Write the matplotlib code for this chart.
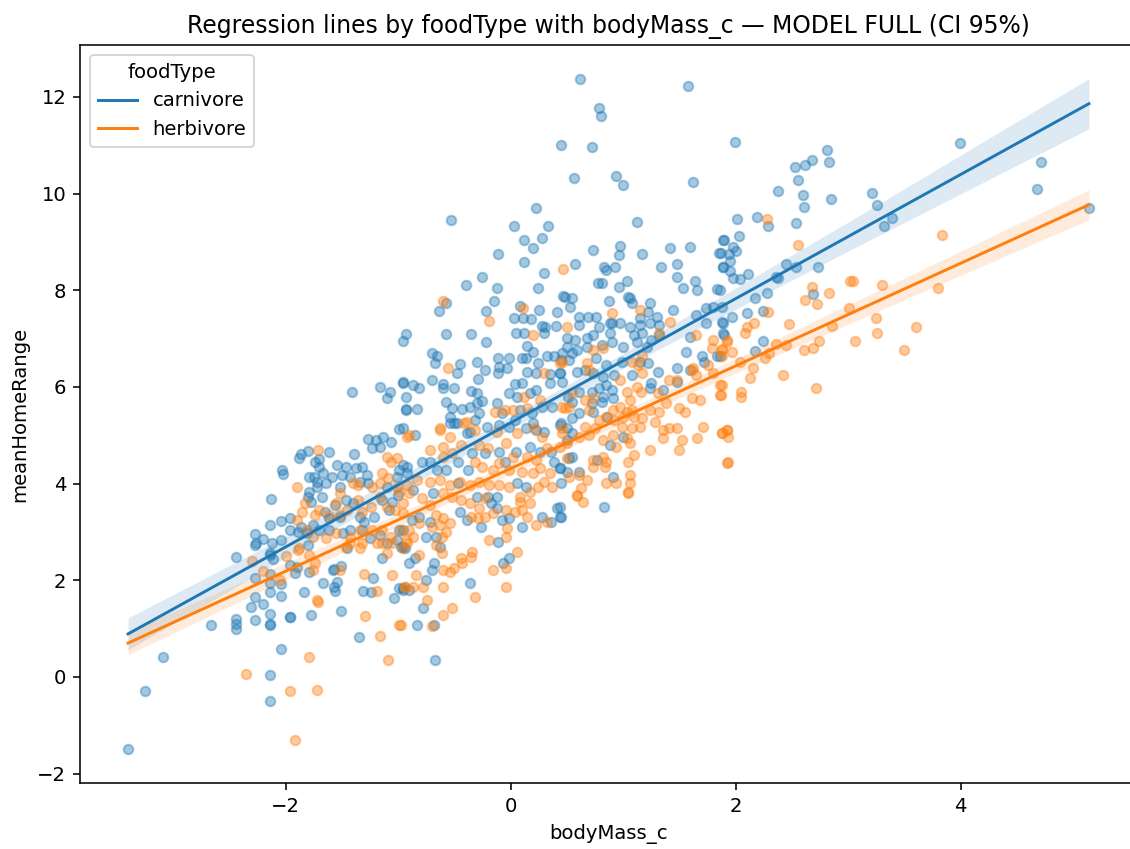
import numpy as np
import matplotlib
matplotlib.use("Agg")
import matplotlib.pyplot as plt

# ---------------- data ----------------
groups = ["carnivore", "herbivore"]
colors = ["#1f77b4", "#ff7f0e"]

carn_pts = [
    (-3.4, -1.5), (-3.25, -0.29), (-3.09, 0.41), (-2.66, 1.08), (-2.44, 2.48), (-2.44, 1.2), (-2.44, 1.1), (-2.44, 1.0),
    (-2.27, 2.96), (-2.27, 2.73), (-2.2, 2.86), (-2.13, 3.69), (-2.14, 3.15), (-2.04, 3.23), (-1.96, 3.29), (-2.03, 4.29),
    (-2.02, 4.2), (-1.88, 4.53), (-2.04, 2.84), (-2.14, 2.53), (-2.11, 2.44), (-2.27, 2.05), (-2.14, 2.13), (-2.14, 1.95),
    (-2.04, 1.93), (-2.14, 1.76), (-2.27, 1.66), (-2.2, 1.51), (-2.31, 1.45), (-2.27, 1.18), (-2.14, 1.3), (-2.14, 1.08),
    (-2.04, 1.68), (-1.96, 1.24), (-2.04, 0.58), (-2.14, 0.04), (-2.14, -0.5), (-1.9, 2.28),
    (-0.96, 6.96), (-0.93, 7.1), (-1.41, 5.9), (-1.16, 6.0), (-1.07, 5.9), (-1.1, 5.78), (-0.96, 6.1), (-0.93, 5.8),
    (-0.93, 5.53), (-0.99, 5.13), (-1.27, 4.93), (-1.2, 4.9), (-1.13, 4.97), (-1.23, 4.74), (-1.16, 4.76), (-1.06, 4.87),
    (-1.86, 4.62), (-1.8, 4.68), (-1.7, 4.51), (-1.61, 4.66), (-1.39, 4.62), (-2.26, 2.77), (-2.12, 2.77), (-1.96, 3.04),
    (-1.74, 4.45), (-1.70, 4.35), (-1.75, 4.14), (-1.72, 4.04), (-1.79, 4.14), (-1.67, 4.22), (-1.64, 4.02), (-1.72, 3.93),
    (-1.79, 3.83), (-1.80, 3.73), (-1.77, 3.62), (-1.68, 3.73), (-1.59, 4.14), (-1.54, 4.39), (-1.50, 4.18), (-1.46, 4.35),
    (-1.43, 4.14), (-1.37, 4.33), (-1.32, 4.35), (-1.28, 4.18), (-1.34, 4.04), (-1.27, 4.02), (-1.52, 3.93), (-1.46, 3.66),
    (-1.56, 3.56), (-1.65, 3.42), (-1.61, 3.29), (-1.52, 3.31), (-1.40, 3.60), (-1.34, 3.31), (-1.30, 3.21), (-1.21, 3.31),
    (-1.14, 3.66), (-1.08, 3.46), (-1.05, 3.62), (-1.00, 3.77), (-1.10, 3.93), (-1.01, 4.14), (-0.96, 4.39), (-0.92, 4.22),
    (-1.86, 3.11), (-1.81, 2.98), (-1.89, 3.00), (-1.76, 3.15), (-1.70, 3.04), (-1.61, 3.04), (-1.49, 2.98), (-1.43, 3.04),
    (-1.32, 3.04), (-1.25, 2.88), (-1.16, 2.94), (-1.10, 2.77), (-1.01, 2.84), (-0.99, 3.04),
    (0.23, 9.71), (-0.53, 9.46), (0.03, 9.32), (0.33, 9.32), (0.12, 9.05), (0.28, 9.09), (0.2, 8.88), (-0.11, 8.76),
    (0.12, 8.59), (0.3, 8.36), (-0.25, 8.28), (-0.4, 8.1), (-0.12, 8.05), (0.24, 8.05), (0.47, 7.89), (-0.15, 7.78),
    (-0.57, 7.74), (-0.64, 7.58), (-0.22, 7.58), (0.08, 7.68), (0.25, 7.6), (0.41, 7.56), (0.03, 7.43), (0.11, 7.43),
    (0.18, 7.41), (0.28, 7.27), (0.31, 7.25), (0.4, 7.27), (0.05, 7.12), (0.12, 7.12), (0.3, 7.12), (-0.57, 7.1),
    (-0.35, 7.1), (-0.22, 6.92), (0.15, 6.85), (0.2, 6.73), (-0.7, 6.71), (-0.65, 6.65), (-0.67, 6.5), (-0.45, 6.48),
    (-0.3, 6.52), (-0.11, 6.6), (-0.01, 6.6), (-0.1, 6.42), (-0.03, 6.4), (0.1, 6.6), (0.14, 6.6), (0.24, 6.5),
    (0.32, 6.63), (0.39, 6.63), (0.46, 6.71), (-0.48, 6.29), (-0.23, 6.36), (-0.11, 6.29), (0.15, 6.31), (0.23, 6.29),
    (0.35, 6.27), (0.44, 6.29), (-0.29, 6.17), (-0.96, 6.09), (-0.87, 6.05), (-0.81, 5.98), (-0.7, 6.15), (-0.6, 6.07),
    (-0.6, 5.98), (-0.5, 5.98), (-0.35, 5.92), (-0.3, 5.88), (-0.25, 5.71), (-0.01, 5.88), (0.04, 6.07),
    (0.1, 6.09), (0.06, 5.8), (0.17, 5.88), (0.23, 5.94), (0.35, 6.09), (0.46, 6.11), (-0.57, 5.69), (-0.43, 5.55),
    (-0.36, 5.59), (-0.3, 5.67), (-0.28, 5.47), (-0.93, 5.55), (-0.83, 5.55), (-0.52, 5.57), (-0.12, 5.67), (-0.08, 5.47),
    (0.08, 5.53), (0.19, 5.47), (0.28, 5.59), (0.37, 5.59), (-0.54, 5.38), (-0.5, 5.26), (-0.32, 5.32), (0.04, 5.32),
    (0.2, 5.26),
    (0.62, 12.38), (1.58, 12.22), (0.79, 11.78), (0.8, 11.61), (0.45, 11.01), (0.72, 10.97), (1.99, 11.06), (0.56, 10.33),
    (0.94, 10.37), (1.0, 10.17), (1.62, 10.25), (1.12, 9.42), (0.73, 8.84), (0.97, 8.92), (0.96, 8.72), (1.17, 8.74),
    (1.42, 8.88), (1.59, 8.9), (1.89, 9.03), (1.85, 8.78), (0.57, 8.55), (0.83, 8.49), (0.85, 8.41), (0.93, 8.49),
    (1.34, 8.49), (1.48, 8.55), (1.89, 8.49), (1.48, 8.28), (0.78, 8.16), (0.81, 8.14), (0.96, 8.07), (1.03, 8.2),
    (1.64, 8.2), (1.53, 8.05), (1.66, 8.01), (1.83, 8.03), (0.48, 7.87), (0.55, 7.85), (1.04, 7.87), (1.06, 7.83),
    (0.87, 7.78), (1.08, 7.74), (0.53, 7.66), (1.24, 7.74), (0.61, 7.45), (0.69, 7.45), (0.76, 7.45), (0.9, 7.33),
    (0.97, 7.33), (1.15, 7.43), (1.22, 7.56), (1.3, 7.45), (1.44, 7.6), (1.65, 7.49), (1.74, 7.64), (1.8, 7.66),
    (1.88, 7.66), (1.89, 7.33), (0.79, 7.25), (1.32, 7.29), (1.74, 7.33),
    (2.81, 10.91), (2.83, 10.66), (2.68, 10.7), (2.62, 10.6), (2.53, 10.54), (2.55, 10.29), (2.38, 10.06), (2.6, 9.98),
    (2.61, 9.73), (2.85, 9.88), (3.21, 10.02), (3.26, 9.77), (3.32, 9.32), (2.01, 9.48), (2.19, 9.52), (2.29, 9.32),
    (2.54, 9.4), (2.03, 9.13), (1.9, 9.05), (1.98, 8.9), (2.0, 8.82), (1.94, 8.74), (1.87, 8.78), (1.95, 8.61),
    (1.89, 8.49), (1.95, 8.39), (1.98, 8.26), (2.11, 8.34), (2.04, 8.24), (2.45, 8.55), (2.54, 8.49), (2.73, 8.49),
    (2.36, 8.28), (2.38, 8.26), (2.69, 7.93), (2.28, 7.95), (2.17, 7.85), (1.86, 8.01), (2.24, 7.58), (2.1, 7.52),
    (1.97, 7.45), (1.88, 7.35), (1.89, 7.12), (2.24, 6.96), (2.17, 6.75), (1.86, 6.63),
    (3.99, 11.04), (4.71, 10.66), (4.68, 10.1), (5.14, 9.71), (3.39, 9.5),
    (0.61, 7.29), (0.88, 7.33), (1.06, 7.25), (1.15, 7.29), (1.24, 7.33), (0.5, 7.02), (0.57, 6.98), (0.68, 7.02),
    (0.73, 7.08), (0.88, 7.12), (1.1, 7.08), (1.17, 7.12), (1.25, 6.98), (1.32, 7.08), (1.59, 7.04), (1.9, 7.08),
    (0.5, 6.83), (0.59, 6.77), (0.55, 6.71), (0.68, 6.83), (0.81, 6.87), (0.9, 6.92), (1.0, 6.83), (1.12, 6.92),
    (1.21, 6.83), (0.45, 6.56), (0.52, 6.56), (0.76, 6.6), (0.85, 6.46), (0.99, 6.52), (1.15, 6.52), (1.22, 6.5),
    (1.56, 6.73), (1.7, 6.63), (1.83, 6.63), (1.72, 6.52), (1.48, 6.4), (1.59, 6.36), (0.44, 6.29), (0.59, 6.31),
    (0.66, 6.36), (0.73, 6.29), (0.82, 6.21), (0.92, 6.25), (1.08, 6.25), (1.31, 6.31), (1.25, 6.09), (1.35, 5.94),
    (1.48, 6.11), (0.85, 6.05), (0.79, 5.98), (0.9, 5.94), (0.82, 5.8), (0.91, 5.78), (0.72, 5.9), (0.61, 5.9),
    (0.51, 5.8), (0.55, 5.69), (0.72, 5.67), (0.81, 5.69), (1.24, 5.98), (0.61, 5.47), (0.55, 5.36), (0.73, 5.49),
    (0.86, 5.38), (0.45, 5.26), (0.55, 5.05), (0.5, 4.91), (1.0, 4.97), (0.88, 4.8), (0.55, 4.55), (0.52, 4.53),
    (0.44, 4.33), (0.5, 4.24), (0.61, 4.24), (0.91, 4.14), (0.45, 4.02), (0.77, 4.49),
    (0.83, 3.52), (0.44, 3.52), (0.45, 3.31),
    (-0.96, 5.15), (-0.85, 5.01), (-0.54, 5.26), (-0.48, 5.26), (-0.39, 5.05), (-0.36, 5.07), (-0.21, 5.18), (-0.1, 5.22),
    (-0.01, 5.18), (0.14, 5.15), (0.23, 5.11), (0.3, 5.07), (0.44, 5.22), (0.5, 5.15), (-0.79, 4.45), (-0.72, 4.45),
    (-0.92, 4.35), (-0.99, 4.29), (-0.65, 4.29), (-0.57, 4.29), (-0.47, 4.45), (-0.38, 4.29), (-0.34, 4.64), (-0.23, 4.64),
    (-0.1, 4.66), (-0.05, 4.45), (0.05, 4.66), (0.17, 4.76), (0.26, 4.66), (0.36, 4.66), (0.39, 4.45), (0.44, 4.33),
    (0.06, 4.02), (0.14, 3.93), (-0.47, 4.02), (-0.69, 3.81), (-0.87, 3.87), (-0.3, 3.73), (-0.2, 3.73), (-0.12, 3.73),
    (-0.17, 3.6), (-0.12, 3.5), (0.41, 3.5), (0.44, 3.31), (0.36, 3.21), (0.28, 3.31), (-0.01, 3.29), (-0.08, 3.25),
    (0.1, 3.11), (-0.45, 3.42), (-0.39, 3.25), (-0.81, 3.31), (-0.72, 3.21), (-0.88, 3.25), (-0.96, 3.04), (-0.75, 2.9),
    (-0.97, 2.69), (-0.94, 2.67), (-0.63, 2.69), (-0.66, 2.9), (-0.26, 3.11), (-0.11, 2.8), (-0.85, 2.46), (-0.9, 2.36),
    (-0.68, 2.36), (-0.7, 2.22), (-0.07, 2.36), (-0.01, 2.46), (-0.75, 2.01), (-0.36, 1.95), (-0.96, 1.84), (-0.9, 1.8),
    (-0.78, 1.43), (-0.83, 1.08), (-0.68, 1.08), (-0.67, 0.35), (-1.35, 0.83),
    (-2.14, 2.57), (-1.8, 2.73), (-1.96, 2.32), (-1.92, 2.15), (-1.79, 2.17), (-1.58, 2.22), (-1.51, 1.37), (-1.77, 1.28),
    (-1.96, 1.24), (-2.14, 1.1), (-1.84, 1.76), (-1.67, 1.95), (-1.57, 1.86), (-1.54, 1.97), (-1.56, 1.78), (-1.57, 2.24),
    (-1.51, 2.3), (-1.22, 2.05), (-1.31, 1.78), (-1.24, 1.76), (-1.04, 1.64), (-0.96, 1.8), (-0.99, 1.84), (-0.96, 2.69),
    (-1.14, 2.46), (-1.45, 2.67),
]

herb_pts = [
    (-2.35, 0.06), (-1.96, -0.29), (-1.92, -1.3), (-1.72, -0.27), (-1.79, 0.41), (-1.09, 0.35), (-1.16, 0.85), (-1.29, 1.26),
    (-0.99, 1.08), (-1.71, 1.55), (-1.3, 2.13), (-1.05, 2.11), (-1.19, 1.78), (-1.9, 3.93),
    (-0.6, 7.78), (0.11, 7.64), (-0.19, 7.37), (0.47, 8.43), (0.2, 7.08), (0.5, 7.25), (-0.56, 6.4), (0.44, 6.5),
    (0.3, 6.29), (0.12, 5.8), (0.26, 5.73), (-0.05, 5.53), (0.02, 5.53), (-0.14, 5.49), (0.46, 5.59), (0.15, 5.57),
    (-0.39, 5.28), (-0.63, 5.15),
    (0.9, 7.52), (1.15, 7.6), (1.42, 7.35),
    (2.28, 9.48), (2.55, 8.94), (3.02, 8.2), (3.04, 8.2), (3.3, 8.1), (2.68, 8.07), (2.83, 7.95), (2.62, 7.8),
    (2.72, 7.72), (2.29, 7.56), (2.16, 7.33), (2.47, 7.31), (2.86, 7.27), (3.01, 7.64), (3.25, 7.43), (3.26, 7.12),
    (2.1, 7.25), (2.08, 7.12), (1.92, 6.98), (1.88, 6.79), (1.97, 6.73), (2.36, 6.89), (2.45, 6.87), (2.61, 6.77),
    (2.69, 6.81), (2.74, 6.94), (3.06, 6.94), (2.26, 6.6), (2.3, 6.71), (2.04, 6.52), (2.15, 6.4), (2.13, 6.19),
    (2.42, 6.25), (2.71, 5.98), (1.88, 6.05), (2.05, 5.9), (2.05, 5.8),
    (1.87, 5.84), (1.92, 5.11), (1.93, 4.97), (1.88, 5.05), (1.93, 4.45),
    (3.83, 9.15), (3.8, 8.05), (3.6, 7.23), (3.5, 6.77),
    (1.32, 7.12), (1.65, 7.08), (1.8, 6.98), (1.79, 6.81), (1.92, 6.92), (1.88, 6.77), (0.73, 6.77), (0.82, 6.81),
    (0.46, 6.52), (0.68, 6.5), (0.7, 6.36), (1.08, 6.52), (1.13, 6.46), (1.17, 6.63), (1.75, 6.46), (1.62, 6.4),
    (1.65, 6.25), (1.61, 6.36), (1.8, 6.29), (1.88, 6.63), (1.86, 6.05), (1.86, 5.84), (1.68, 5.73), (1.61, 5.78),
    (1.41, 6.15), (1.48, 6.15), (1.31, 5.88), (1.38, 5.67), (1.32, 5.49), (1.5, 5.57), (1.55, 5.49), (1.17, 6.29),
    (1.12, 6.0), (1.16, 5.9), (1.03, 5.9), (0.97, 6.15), (1.06, 5.73), (0.97, 5.59), (1.03, 5.49), (1.08, 5.53),
    (0.91, 5.53), (1.0, 5.38), (1.1, 5.38), (1.17, 5.36), (1.24, 5.53), (1.28, 5.28), (1.15, 5.18), (1.08, 5.15),
    (0.99, 5.18), (0.92, 5.32), (0.85, 5.38), (0.79, 5.32), (0.7, 5.53), (0.66, 5.73), (0.73, 5.78), (0.55, 5.88),
    (0.48, 5.57), (0.52, 5.59), (0.66, 5.18), (0.75, 5.15), (0.7, 5.01), (0.61, 4.97), (0.46, 5.05), (0.82, 4.91),
    (0.91, 5.01), (1.03, 4.95), (1.06, 4.84), (0.94, 4.76), (1.35, 5.11), (1.41, 5.15), (1.48, 5.15), (1.35, 4.95),
    (1.52, 4.91), (1.5, 4.7), (1.66, 4.95), (1.71, 5.18), (1.88, 5.05), (1.92, 5.11), (1.92, 4.43), (1.24, 4.7),
    (1.1, 4.6), (1.04, 4.45), (1.06, 4.18), (1.06, 4.02), (1.04, 3.83), (0.73, 4.49), (0.82, 4.55), (0.85, 4.45),
    (0.73, 4.35), (0.84, 4.35), (0.61, 4.18), (0.85, 4.02), (0.94, 4.02), (0.68, 4.08), (0.63, 3.91), (0.59, 3.77),
    (0.52, 4.14), (0.59, 3.75), (0.64, 3.62), (1.04, 3.81),
    (-0.63, 5.11), (-0.54, 4.97), (-0.41, 5.26), (-0.32, 5.11), (-0.12, 5.07), (0.06, 5.05), (0.21, 5.15), (0.28, 4.97),
    (0.46, 5.15), (-0.9, 5.01), (-0.72, 4.7), (-0.6, 4.76), (-0.52, 4.64), (-0.6, 4.55), (-0.44, 4.8), (-0.28, 4.8),
    (-0.2, 4.74), (-0.04, 4.84), (0.02, 4.55), (0.15, 4.55), (0.23, 4.49), (0.32, 4.74), (0.44, 4.76), (0.5, 4.84),
    (0.5, 4.53), (-0.32, 4.45), (-0.25, 4.35), (-0.16, 4.29), (-0.1, 4.43), (-0.01, 4.29), (0.1, 4.24), (0.2, 4.22),
    (0.26, 4.33), (0.35, 4.22), (0.3, 4.04), (0.37, 3.93), (0.24, 3.93), (0.17, 3.83), (0.08, 3.73), (-0.01, 3.93),
    (-0.1, 3.98), (-0.19, 3.98), (-0.28, 4.04), (-0.36, 3.98), (-0.45, 4.04), (-0.54, 3.98), (-0.63, 4.08), (-0.72, 4.04),
    (-0.83, 4.08), (-0.92, 3.98), (-0.99, 3.83), (-0.9, 3.81), (-0.79, 3.71), (-0.6, 3.81), (-0.52, 3.73), (-0.44, 3.66),
    (-0.36, 3.6), (-0.28, 3.5), (-0.23, 3.71), (-0.35, 3.31), (-0.29, 3.29), (-0.23, 3.31), (-0.16, 3.4), (-0.04, 3.46),
    (0.04, 3.42), (0.1, 3.46), (0.15, 3.31), (0.23, 3.15), (0.32, 3.21), (0.08, 3.62), (0.17, 3.6), (-0.72, 3.56),
    (-0.66, 3.35), (-0.6, 3.29), (-0.54, 3.19), (-0.63, 3.15), (-0.7, 3.11), (-0.81, 3.19), (-0.9, 3.04), (-0.87, 2.9),
    (-0.93, 2.84), (-0.57, 3.0), (-0.61, 2.9), (-0.66, 2.73), (-0.61, 2.57), (-0.81, 2.53), (-0.84, 2.11), (-0.78, 1.86),
    (-0.87, 1.86), (-0.94, 1.86), (-0.74, 1.59), (-0.6, 1.28), (-0.52, 1.43), (-0.7, 1.06), (-0.97, 1.08), (-0.6, 2.22),
    (-0.54, 2.17), (-0.5, 2.26), (-0.44, 2.46), (-0.43, 2.36), (-0.34, 2.59), (-0.35, 2.48), (-0.6, 1.86), (-0.32, 1.66),
    (-0.16, 2.22), (-0.04, 2.26), (-0.04, 1.86), (0.06, 2.59), (-0.19, 2.84), (-0.04, 2.9), (-0.03, 3.08),
    (-1.71, 4.7), (-1.1, 4.55), (-1.06, 4.45), (-1.01, 4.53), (-0.92, 4.97), (-1.14, 4.22), (-1.09, 4.12), (-1.4, 4.02),
    (-1.36, 3.98), (-1.52, 3.81), (-1.55, 3.6), (-1.83, 3.6), (-1.85, 3.42), (-1.74, 3.35), (-1.7, 3.46), (-1.61, 3.35),
    (-1.52, 3.35), (-1.45, 3.46), (-1.36, 3.66), (-1.32, 3.42), (-1.24, 3.52), (-1.16, 3.73), (-1.1, 3.52), (-1.03, 3.46),
    (-0.96, 3.4), (-0.96, 3.6), (-1.01, 3.93), (-1.23, 3.93), (-1.16, 4.02), (-1.81, 3.04), (-1.76, 2.9), (-1.64, 2.88),
    (-1.55, 2.98), (-1.43, 2.9), (-1.34, 3.04), (-1.23, 3.04), (-1.14, 3.04), (-1.06, 2.9), (-0.97, 3.04), (-0.92, 2.77),
    (-1.14, 2.77), (-1.32, 2.77), (-1.46, 2.69), (-1.88, 2.67), (-1.9, 3.25),
    (-1.89, 2.63), (-1.79, 2.53), (-1.74, 2.36), (-1.76, 2.22), (-1.52, 2.22), (-1.43, 2.77), (-1.34, 2.67), (-1.19, 2.77),
    (-1.1, 2.57), (-1.05, 2.77), (-0.96, 2.67), (-0.94, 1.86), (-1.72, 1.59),
    (-2.3, 2.4), (-2.2, 2.2), (-2.0, 2.5), (-2.05, 2.0),
]

# fitted model lines and 95% CI half-widths
line_x = [-3.4, 5.14]
carn_line = [0.89, 11.86]
herb_line = [0.70, 9.77]
band_x = [-3.4, -2, -1, 0, 1, 2, 3, 4, 5.14]
carn_half = [0.33, 0.22, 0.16, 0.13, 0.15, 0.22, 0.30, 0.40, 0.52]
herb_half = [0.24, 0.17, 0.13, 0.11, 0.12, 0.15, 0.20, 0.25, 0.31]

title = "Regression lines by foodType with bodyMass_c \u2014 MODEL FULL (CI 95%)"
x_label = "bodyMass_c"
y_label = "meanHomeRange"
legend_title = "foodType"

# ---------------- figure ----------------
DPI = 141
fig = plt.figure(figsize=(1130 / DPI, 849 / DPI), dpi=DPI)
ax = fig.add_axes([80 / 1130, 1 - 783 / 849, 1057 / 1130, (783 - 45) / 849])

datasets = [np.array(carn_pts), np.array(herb_pts)]
for pts, col in zip(datasets, colors):
    ax.scatter(pts[:, 0], pts[:, 1], s=24, color=col, alpha=0.4, linewidths=1.0, zorder=2)

handles = []
for line_y, half, col, name in zip([carn_line, herb_line], [carn_half, herb_half], colors, groups):
    bx = np.array(band_x)
    centre = np.interp(bx, line_x, line_y)
    hw = np.array(half)
    ax.fill_between(bx, centre - hw, centre + hw, color=col, alpha=0.15, linewidth=0, zorder=3)
    h, = ax.plot(line_x, line_y, color=col, lw=1.5, zorder=4, label=name)
    handles.append(h)

all_pts = np.vstack(datasets)
xmin, xmax = all_pts[:, 0].min(), all_pts[:, 0].max()
ymin, ymax = all_pts[:, 1].min(), all_pts[:, 1].max()
ax.set_xlim(xmin - 0.05 * (xmax - xmin), xmax + 0.05 * (xmax - xmin))
ax.set_ylim(ymin - 0.05 * (ymax - ymin), ymax + 0.05 * (ymax - ymin))

ax.set_title(title, fontsize=12)
ax.set_xlabel(x_label)
ax.set_ylabel(y_label)
ax.set_xticks([-2, 0, 2, 4])
ax.set_yticks([-2, 0, 2, 4, 6, 8, 10, 12])
ax.legend(handles=handles, title=legend_title, loc="upper left")

fig.savefig("out.png", dpi=DPI)
